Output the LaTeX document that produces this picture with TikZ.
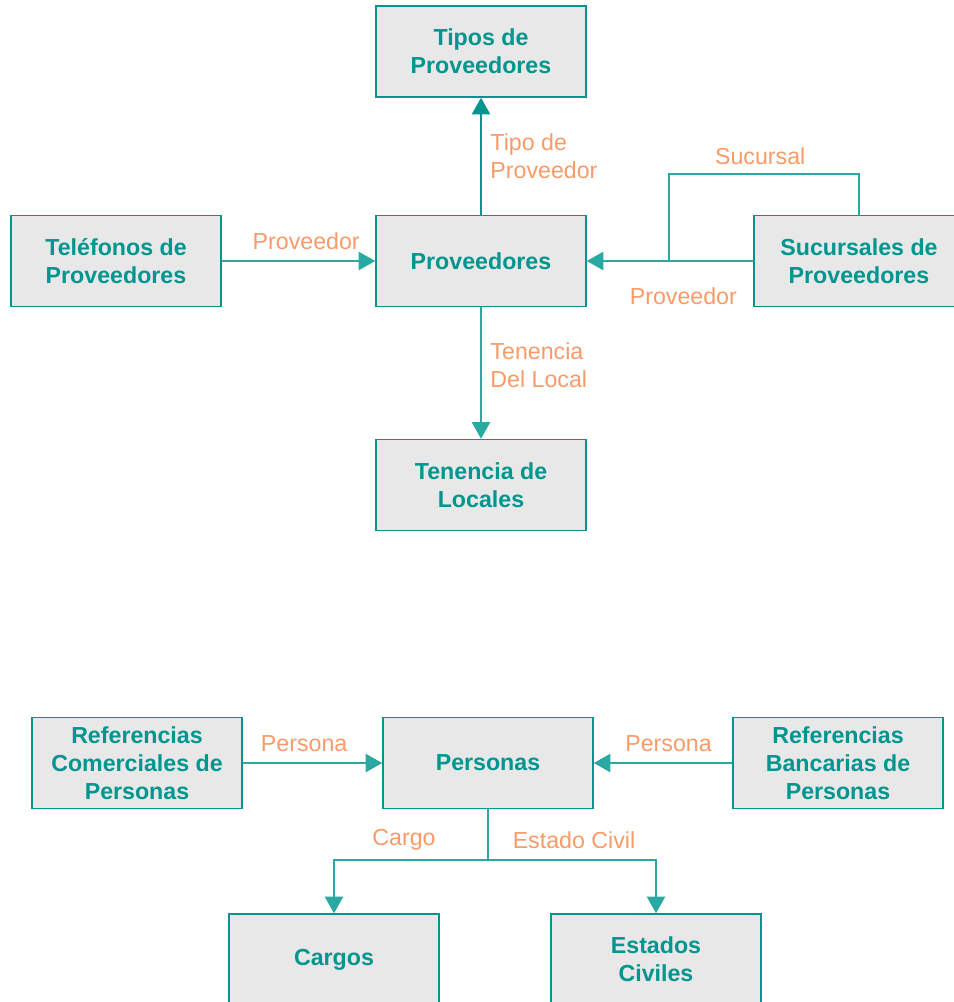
\documentclass[tikz,border=0pt]{standalone}
\usepackage{fontspec}
\setmainfont{Liberation Sans}
\usetikzlibrary{arrows.meta}
\definecolor{tealtxt}{HTML}{00968F}
\definecolor{tealline}{HTML}{2AA8A2}
\definecolor{boxfill}{HTML}{E8E8E8}
\definecolor{rolecol}{HTML}{F99A68}
\begin{document}
\begin{tikzpicture}[x=0.02cm, y=-0.02cm,
    every node/.style={font=\fontsize{13.2}{15.8}\selectfont},
    entity/.style={rectangle, draw=tealtxt, line width=0.9pt, fill=boxfill, minimum width=4.2cm, minimum height=1.82cm, align=center, text=tealtxt, font=\fontsize{13.2}{15.8}\selectfont\bfseries},
    role/.style={text=rolecol, align=left, inner sep=2pt},
    link/.style={draw=tealline, line width=0.8pt},
    >={Triangle[width=10.5pt, length=9.5pt]}]
    \useasboundingbox (0,0) rectangle (954,1002);
    % proveedores
    \node[entity] (tip) at (481, 51.5) {Tipos de\\Proveedores};
    \node[entity] (prov) at (481, 261) {Proveedores};
    \node[entity] (tel) at (116, 261) {Teléfonos de\\Proveedores};
    \node[entity] (suc) at (859, 261) {Sucursales de\\Proveedores};
    \node[entity] (ten) at (481, 485) {Tenencia de\\Locales};
    \coordinate (j) at (669, 261);
    \coordinate (top) at (669, 174);
    \draw[link, ->, tealtxt] (prov) -- node[role, right, xshift=3pt] (r1) {Tipo de\\Proveedor} (tip);
    \draw[link, ->] (tel) -- node[role, above, pos=0.55, yshift=4pt] (r2) {Proveedor} (prov);
    \draw[link, ->] (suc) -- node[role, below, pos=0.42, yshift=-13pt] (r3) {Proveedor} (prov);
    \draw[link] (suc.north) |- node[role, above, pos=0.76, yshift=3pt] (r4) {Sucursal} (top) -- (j);
    \draw[link, ->] (prov) -- node[role, right, pos=0.44, xshift=3pt] (r5) {Tenencia\\Del Local} (ten);
    % personas
    \node[entity] (per) at (488, 763) {Personas};
    \node[entity] (rcom) at (137, 763) {Referencias\\Comerciales de\\Personas};
    \node[entity] (rban) at (838, 763) {Referencias\\Bancarias de\\Personas};
    \node[entity] (car) at (334, 959.5) {Cargos};
    \node[entity] (est) at (656, 959.5) {Estados\\Civiles};
    \coordinate (split) at (488, 860);
    \draw[link, ->] (rcom) -- node[role, above, pos=0.44, yshift=4pt] (r6) {Persona} (per);
    \draw[link, ->] (rban) -- node[role, above, pos=0.46, yshift=4pt] (r7) {Persona} (per);
    \draw[link] (per.south) -- (split);
    \draw[link, ->] (split) -| (car.north);
    \draw[link, ->] (split) -| (est.north);
    \node[role] (r8) at (404, 840) {Cargo};
    \node[role] (r9) at (574, 840) {Estado Civil};
\end{tikzpicture}
\end{document}
